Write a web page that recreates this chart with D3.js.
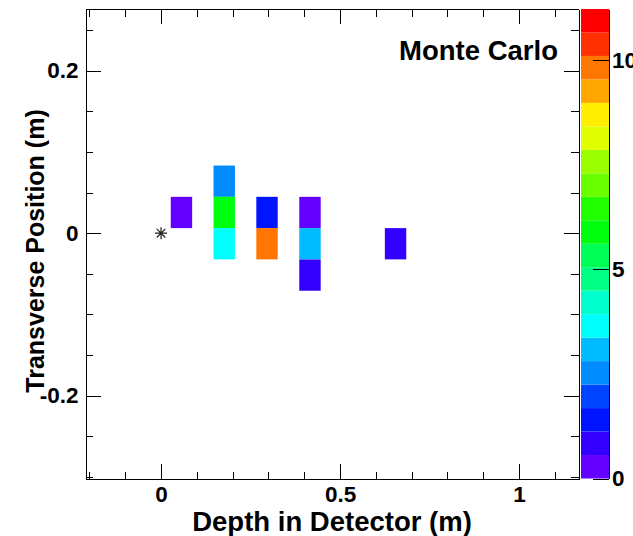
<html>
<head>
  <title>Monte Carlo hits</title>
  <script src="https://d3js.org/d3.v7.min.js"></script>
  <style>
    body { margin: 0; background: #fff; }
    text { font-family: "Liberation Sans", Arial, sans-serif; font-weight: bold; }
    .axis path, .axis line { stroke: #000; shape-rendering: crispEdges; }
    .axis text { font-size: 22.5px; fill: #000; }
  </style>
</head>
<body>
  <div id="vis"></div>
  <script type="text/javascript">

    // hit cells: depth (m), transverse position (m), content
    var cellDepth = [0.057, 0.1765, 0.1765, 0.1765, 0.296, 0.296, 0.416, 0.416, 0.416, 0.655];
    var cellTrans = [0.0255, 0.064, 0.0255, -0.013, 0.0255, -0.013, 0.0255, -0.013, -0.0516, -0.013];
    var cellValue = [0.4, 2.5, 5.9, 3.6, 1.4, 9.8, 0.3, 3.1, 0.8, 0.9];

    // shower start marker
    var vertexDepth = [0];
    var vertexTrans = [0];

    var xTicks = [0, 0.5, 1];
    var yTicks = [-0.2, 0, 0.2];
    var zTicks = [0, 5, 10];

    var binW = 0.0598, binH = 0.0385;
    var zMax = 11.23, nContours = 20;

    var width = 633, height = 536;
    var frame = {left: 85.5, right: 578.5, top: 9, bottom: 479.3};

    var x = d3.scaleLinear().domain([-0.211, 1.166]).range([frame.left, frame.right]);
    var y = d3.scaleLinear().domain([-0.303, 0.276]).range([frame.bottom, frame.top]);
    var zAxisScale = d3.scaleLinear().domain([0, zMax]).range([478.5, 9]);

    // ROOT "pretty" palette (50 hues), picked for 20 contour levels
    var palette = d3.range(nContours).map(function(k) {
      var i = Math.floor((k + 0.99) * 50 / nContours);
      return d3.hsl(280 - (i + 1) * 5.6, 1, 0.5).formatHex();
    });
    var z = d3.scaleQuantize().domain([0, zMax]).range(palette);

    var plain = function(d) { return String(d); };

    var svg = d3.select('#vis').append('svg')
      .attr('width', width)
      .attr('height', height);

    svg.append('rect').attr('width', width).attr('height', height).attr('fill', '#fff');

    // cells
    svg.append('g').selectAll('rect')
      .data(cellValue)
      .enter().append('rect')
        .attr('x', function(d, i) { return x(cellDepth[i] - binW / 2); })
        .attr('y', function(d, i) { return y(cellTrans[i] + binH / 2); })
        .attr('width', function(d, i) { return x(cellDepth[i] + binW / 2) - x(cellDepth[i] - binW / 2); })
        .attr('height', function(d, i) { return y(cellTrans[i] - binH / 2) - y(cellTrans[i] + binH / 2); })
        .attr('fill', function(d) { return z(d); });

    // star marker
    svg.append('g').selectAll('path')
      .data(vertexDepth)
      .enter().append('path')
        .attr('transform', function(d, i) { return 'translate(' + x(d) + ',' + y(vertexTrans[i]) + ')'; })
        .attr('d', 'M-6,0H6M0,-6V6M-4.3,-4.3L4.3,4.3M-4.3,4.3L4.3,-4.3')
        .attr('stroke', '#222')
        .attr('stroke-width', 1.2)
        .attr('fill', 'none');

    // minor tick values
    var xMinor = d3.range(-2, 12).map(function(i) { return i / 10; });
    var yMinor = d3.range(-6, 6).map(function(i) { return i / 20; });

    function addAxis(axis, tx, ty) {
      return svg.append('g')
        .attr('class', 'axis')
        .attr('transform', 'translate(' + tx + ',' + ty + ')')
        .call(axis);
    }

    // bottom
    addAxis(d3.axisBottom(x).tickValues(xMinor).tickSize(-7.5).tickSizeOuter(0).tickFormat(''), 0, frame.bottom);
    addAxis(d3.axisBottom(x).tickValues(xTicks).tickSize(-15).tickSizeOuter(0).tickPadding(7).tickFormat(plain), 0, frame.bottom);
    // top
    addAxis(d3.axisTop(x).tickValues(xMinor).tickSize(-7.5).tickSizeOuter(0).tickFormat(''), 0, frame.top);
    addAxis(d3.axisTop(x).tickValues(xTicks).tickSize(-15).tickSizeOuter(0).tickFormat(''), 0, frame.top);
    // left
    addAxis(d3.axisLeft(y).tickValues(yMinor).tickSize(-7.5).tickSizeOuter(0).tickFormat(''), frame.left, 0);
    addAxis(d3.axisLeft(y).tickValues(yTicks).tickSize(-15).tickSizeOuter(0).tickPadding(7).tickFormat(plain), frame.left, 0);
    // right
    addAxis(d3.axisRight(y).tickValues(yMinor).tickSize(-7.5).tickSizeOuter(0).tickFormat(''), frame.right, 0);
    addAxis(d3.axisRight(y).tickValues(yTicks).tickSize(-15).tickSizeOuter(0).tickFormat(''), frame.right, 0);

    // colour bar
    var bands = d3.range(nContours);
    var bandH = zMax / nContours;
    svg.append('g').selectAll('rect')
      .data(bands)
      .enter().append('rect')
        .attr('x', 581)
        .attr('width', 28)
        .attr('y', function(k) { return zAxisScale((k + 1) * bandH); })
        .attr('height', function(k) { return zAxisScale(k * bandH) - zAxisScale((k + 1) * bandH); })
        .attr('fill', function(k) { return palette[k]; });

    var zg = addAxis(d3.axisRight(zAxisScale).tickValues(zTicks).tickSize(-16).tickSizeOuter(0).tickPadding(3).tickFormat(plain), 609, 0);
    zg.select('.domain').attr('stroke', '#000');

    // titles
    svg.append('text')
      .text('Depth in Detector (m)')
      .attr('x', 332)
      .attr('y', 531)
      .attr('text-anchor', 'middle')
      .style('font-size', '27.5px');

    svg.append('text')
      .text('Transverse Position (m)')
      .attr('transform', 'translate(44,251) rotate(-90)')
      .attr('text-anchor', 'middle')
      .style('font-size', '25px');

    svg.append('text')
      .text('Monte Carlo')
      .attr('x', 558)
      .attr('y', 60)
      .attr('text-anchor', 'end')
      .style('font-size', '27.5px');

  </script>
</body>
</html>
